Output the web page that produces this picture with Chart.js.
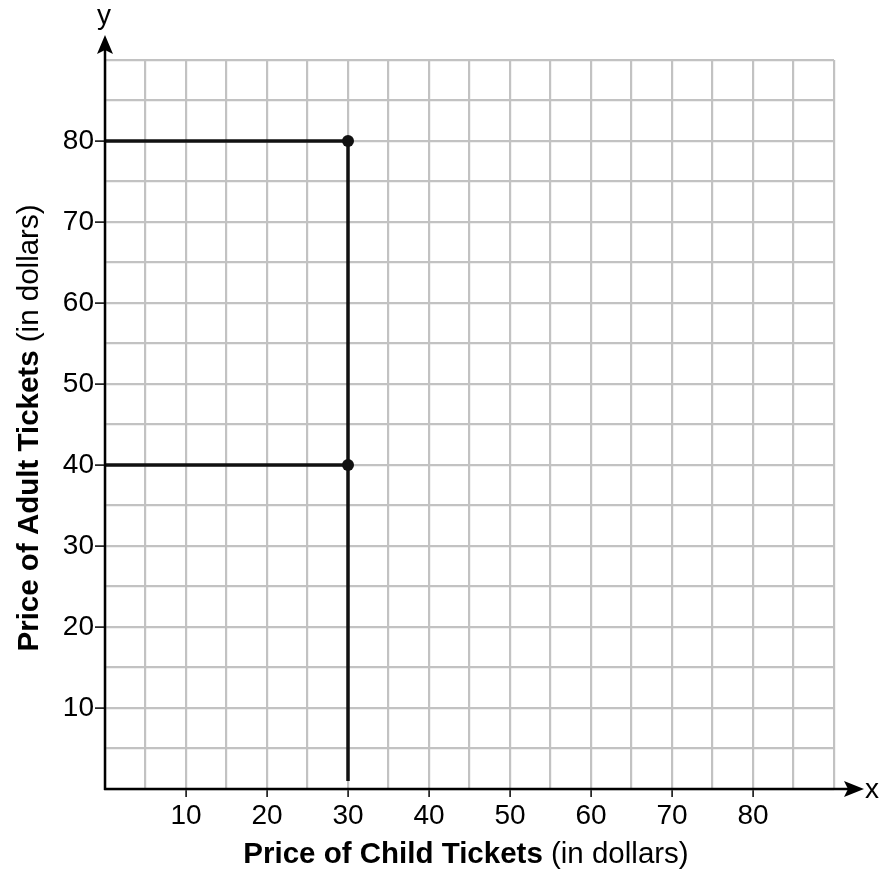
<!DOCTYPE html>
<html>
<head>
<meta charset="utf-8">
<script src="https://cdn.jsdelivr.net/npm/chart.js@4.4.1/dist/chart.umd.min.js"></script>
<style>
html,body{margin:0;padding:0;background:#fff;}
#wrap{width:883px;height:871px;position:relative;}
</style>
</head>
<body>
<div id="wrap"><canvas id="c"></canvas></div>
<script>
// ---- data ----
const xTickLabels = [10, 20, 30, 40, 50, 60, 70, 80];
const yTickLabels = [10, 20, 30, 40, 50, 60, 70, 80];
const axisMin = 0, axisMax = 90, gridStep = 5;
const upperLineX = [0, 30];   const upperLineY = [80, 80];
const lowerLineX = [0, 30];   const lowerLineY = [40, 40];
const verticalX  = [30, 30];  const verticalY  = [1, 80];
const pointsX = [30, 30];     const pointsY = [80, 40];
const xTitleBold = 'Price of Child Tickets', xTitleNormal = ' (in dollars)';
const yTitleBold = 'Price of Adult Tickets', yTitleNormal = ' (in dollars)';

const zip = (xs, ys) => xs.map((x, i) => ({x, y: ys[i]}));
const FONT = '"Liberation Sans", Arial, Helvetica, sans-serif';
const INK = '#111';
const TICK_SIZE = 28, TITLE_SIZE = 29.5;

const lineDs = (xs, ys) => ({
  data: zip(xs, ys), showLine: true, borderColor: INK, borderWidth: 3.5,
  pointRadius: 0, fill: false, tension: 0
});

const axesPlugin = {
  id: 'axesDeco',
  afterDatasetsDraw(chart) {
    const {ctx, chartArea: a} = chart;
    ctx.save();
    ctx.strokeStyle = '#000'; ctx.fillStyle = '#000'; ctx.lineWidth = 2.5;
    // y axis line + arrow
    ctx.beginPath(); ctx.moveTo(a.left, a.bottom + 1); ctx.lineTo(a.left, 50); ctx.stroke();
    ctx.beginPath(); ctx.moveTo(a.left, 35); ctx.lineTo(a.left - 8, 54); ctx.lineTo(a.left, 50); ctx.lineTo(a.left + 8, 54); ctx.closePath(); ctx.fill();
    // x axis line + arrow
    ctx.beginPath(); ctx.moveTo(a.left - 1, a.bottom); ctx.lineTo(850, a.bottom); ctx.stroke();
    ctx.beginPath(); ctx.moveTo(864, a.bottom); ctx.lineTo(844, a.bottom - 8); ctx.lineTo(848, a.bottom); ctx.lineTo(844, a.bottom + 8); ctx.closePath(); ctx.fill();
    // axis letters
    ctx.font = TICK_SIZE + 'px ' + FONT; ctx.textBaseline = 'alphabetic';
    ctx.textAlign = 'center'; ctx.fillText('y', a.left - 1, 24);
    ctx.textAlign = 'left'; ctx.fillText('x', 865, a.bottom + 9);
    // x title (bold + normal)
    ctx.font = 'bold ' + TITLE_SIZE + 'px ' + FONT; const wb = ctx.measureText(xTitleBold).width;
    ctx.font = TITLE_SIZE + 'px ' + FONT; const wn = ctx.measureText(xTitleNormal).width;
    let sx = 466 - (wb + wn) / 2;
    ctx.font = 'bold ' + TITLE_SIZE + 'px ' + FONT; ctx.fillText(xTitleBold, sx, 863);
    ctx.font = TITLE_SIZE + 'px ' + FONT; ctx.fillText(xTitleNormal, sx + wb, 863);
    // y title rotated
    ctx.translate(38, 428); ctx.rotate(-Math.PI / 2);
    ctx.font = 'bold ' + TITLE_SIZE + 'px ' + FONT; const yb = ctx.measureText(yTitleBold).width;
    ctx.font = TITLE_SIZE + 'px ' + FONT; const yn = ctx.measureText(yTitleNormal).width;
    sx = -(yb + yn) / 2;
    ctx.font = 'bold ' + TITLE_SIZE + 'px ' + FONT; ctx.fillText(yTitleBold, sx, 0);
    ctx.font = TITLE_SIZE + 'px ' + FONT; ctx.fillText(yTitleNormal, sx + yb, 0);
    ctx.restore();
  }
};

const tickCol = (labels) => (c) => labels.includes(c.tick && c.tick.value) ? '#000' : 'rgba(0,0,0,0)';

new Chart(document.getElementById('c'), {
  type: 'scatter',
  data: {
    datasets: [
      lineDs(upperLineX, upperLineY),
      lineDs(lowerLineX, lowerLineY),
      lineDs(verticalX, verticalY),
      { data: zip(pointsX, pointsY), showLine: false, pointRadius: 6, pointBackgroundColor: INK, pointBorderWidth: 0 }
    ]
  },
  options: {
    responsive: true, maintainAspectRatio: false, animation: false,
    layout: { padding: { top: 60, right: 49, left: 0, bottom: 0 } },
    plugins: { legend: { display: false }, tooltip: { enabled: false } },
    scales: {
      x: {
        type: 'linear', min: axisMin, max: axisMax,
        afterFit: s => { s.height = 82; },
        ticks: { stepSize: gridStep, autoSkip: false, maxRotation: 0, color: '#000', padding: 2,
          font: { family: FONT, size: TICK_SIZE },
          callback: v => xTickLabels.includes(v) ? String(v) : '' },
        grid: { color: '#c2c2c2', lineWidth: 2.2, drawTicks: true, tickLength: 8, tickWidth: 1.5, tickColor: tickCol(xTickLabels) },
        border: { display: false }
      },
      y: {
        type: 'linear', min: axisMin, max: axisMax,
        afterFit: s => { s.width = 105; },
        ticks: { stepSize: gridStep, autoSkip: false, color: '#000', padding: 1,
          font: { family: FONT, size: TICK_SIZE },
          callback: v => yTickLabels.includes(v) ? String(v) : '' },
        grid: { color: '#c2c2c2', lineWidth: 2.2, drawTicks: true, tickLength: 10, tickWidth: 1.5, tickColor: tickCol(yTickLabels) },
        border: { display: false }
      }
    }
  },
  plugins: [axesPlugin]
});
</script>
</body>
</html>
